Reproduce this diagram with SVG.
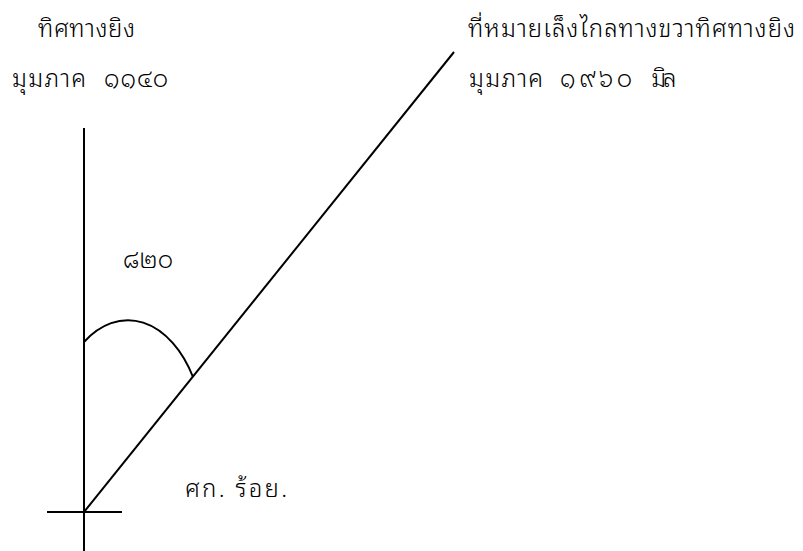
<svg xmlns="http://www.w3.org/2000/svg" width="803" height="551" viewBox="0 0 803 551">
<style>
.t{font-family:"Noto Sans Thai Looped","Noto Sans Thai","Noto Sans",sans-serif;font-size:24px;font-weight:300;fill:#000}
.l{stroke:#000;stroke-width:2;fill:none}
</style>
<rect width="803" height="551" fill="#fff"/>
<g id="connectors">
<line class="l" x1="84" y1="128" x2="84" y2="551"/>
<line class="l" x1="47" y1="512" x2="122" y2="512"/>
<line class="l" x1="84" y1="512" x2="454" y2="52"/>
<path class="l" d="M84,342 A77,122 0 0 1 193,377"/>
</g>
<g id="label-fire-direction">
<text class="t" x="38" y="37" textLength="97" lengthAdjust="spacing">ทิศทางยิง</text>
<text class="t" y="87"><tspan x="12" textLength="74" lengthAdjust="spacing">มุมภาค</tspan><tspan x="104" textLength="64" lengthAdjust="spacing">๑๑๔๐</tspan></text>
</g>
<g id="label-aiming-point">
<text class="t" x="468" y="37" textLength="327" lengthAdjust="spacing">ที่หมายเล็งไกลทางขวาทิศทางยิง</text>
<text class="t" y="87"><tspan x="469" textLength="74" lengthAdjust="spacing">มุมภาค</tspan><tspan x="560" textLength="72" lengthAdjust="spacing">๑๙๖๐</tspan><tspan x="648" textLength="25" lengthAdjust="spacing">มิล</tspan></text>
</g>
<g id="label-angle"><text class="t" x="123" y="268" textLength="50" lengthAdjust="spacing">๘๒๐</text></g>
<g id="label-battery"><text class="t" x="185" y="497" textLength="102" lengthAdjust="spacing">ศก. ร้อย.</text></g>
</svg>
